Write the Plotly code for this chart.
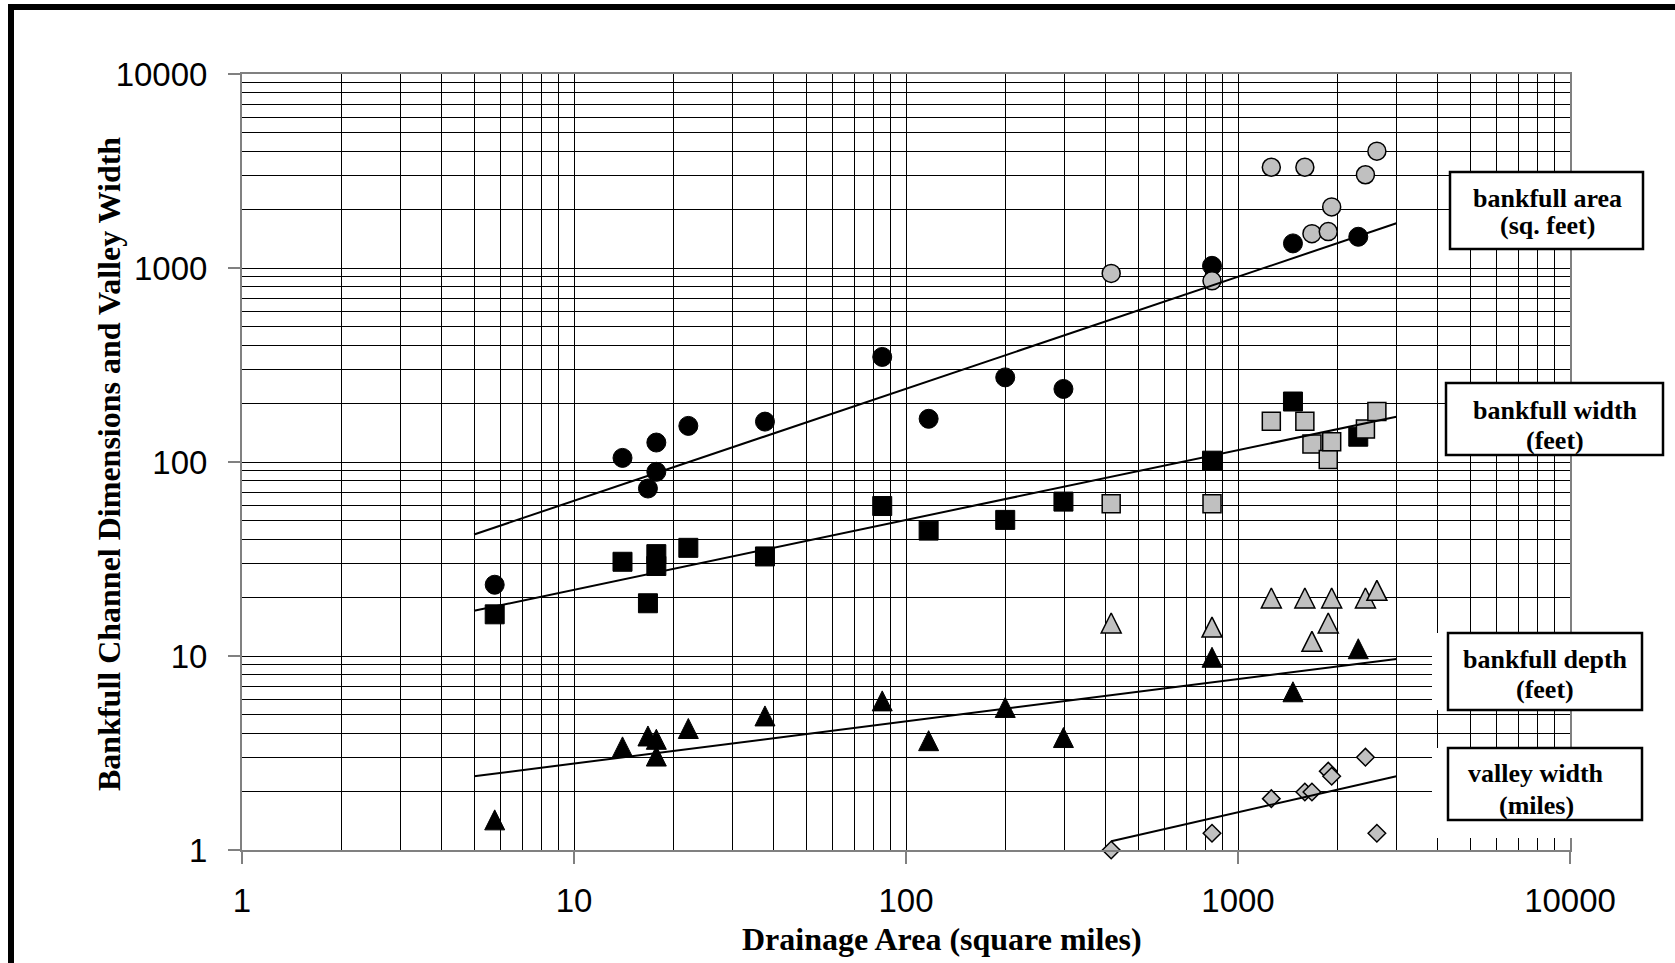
import plotly.graph_objects as go

# ---------------- data ----------------
# black symbols (smaller watersheds)
black_x = [5.77, 14.0, 16.7, 17.7, 17.7, 22.1, 37.6, 84.8, 117, 199, 298, 835, 1464, 2303]
black_area = [23.3, 105, 73, 126, 89, 153.5, 161.5, 348, 167, 273, 238, 1026, 1339, 1449]
black_width = [16.4, 30.6, 18.7, 33.5, 29.1, 36.1, 32.6, 59.3, 44.3, 50.3, 62.5, 101.6, 205, 135]
black_depth = [1.43, 3.4, 3.87, 3.72, 3.05, 4.23, 4.91, 5.87, 3.66, 5.43, 3.80, 9.85, 6.54, 10.9]

# gray symbols (larger watersheds)
gray_x = [415, 835, 1260, 1590, 1670, 1870, 1915, 2420, 2620]
gray_area = [938, 859, 3306, 3306, 1503, 1541, 2065, 3025, 4002]
gray_width = [60.9, 60.9, 162, 162, 124, 103, 127, 148, 182]
gray_depth = [14.8, 14.1, 19.9, 19.9, 11.9, 14.8, 19.9, 19.9, 21.8]
gray_valley = [1.0, 1.22, 1.84, 1.99, 1.99, 2.55, 2.40, 3.01, 1.22]

# power-law trend lines (end points)
trend_x = [5, 3000]
trend_area = [42.3, 1700]
trend_width = [17.1, 171]
trend_depth = [2.40, 9.65]
valley_trend_x = [415, 3000]
valley_trend = [1.11, 2.40]

tick_vals = [1, 10, 100, 1000, 10000]
tick_text = ["1", "10", "100", "1000", "10000"]
minor_vals = [m * 10 ** k for k in range(4) for m in range(2, 10)]

box_labels = [
    ("bankfull area", "(sq. feet)"),
    ("bankfull width", "(feet)"),
    ("bankfull depth", "(feet)"),
    ("valley width", "(miles)"),
]

# ---------------- layout geometry (pixels) ----------------
W, H = 1675, 963
PL, PR, PT, PB = 242, 1570, 74, 850


def px(x):
    return (x - PL) / (PR - PL)


def py(y):
    return (PB - y) / (PB - PT)


GRAY = "#C0C0C0"
SERIF = "Liberation Serif, Times New Roman, serif"
SANS = "Liberation Sans, Arial, sans-serif"
TRI = 20
delta = (TRI / 2) / ((PB - PT) / 4)

fig = go.Figure()


def add_markers(x, y, symbol, size, fill, lw, yaxis="y"):
    fig.add_trace(go.Scatter(
        x=x, y=y, mode="markers", yaxis=yaxis, cliponaxis=False,
        marker=dict(symbol=symbol, size=size, color=fill,
                    line=dict(color="black", width=lw)),
        showlegend=False, hoverinfo="x+y"))


add_markers(black_x, black_area, "circle", 19, "black", 1)
add_markers(gray_x, gray_area, "circle", 18, GRAY, 1.5)
add_markers(black_x, black_width, "square", 19, "black", 1)
add_markers(gray_x, gray_width, "square", 18, GRAY, 1.5)
add_markers(black_x, black_depth, "arrow-up", TRI, "black", 1, "y2")
add_markers(gray_x, gray_depth, "arrow-up", TRI, GRAY, 1.5, "y2")
add_markers(gray_x, gray_valley, "diamond", 13.5, GRAY, 1.5)

for xs, ys in [(trend_x, trend_area), (trend_x, trend_width),
               (trend_x, trend_depth), (valley_trend_x, valley_trend)]:
    fig.add_trace(go.Scatter(x=xs, y=ys, mode="lines",
                             line=dict(color="black", width=2),
                             showlegend=False, hoverinfo="skip"))

axis_common = dict(
    type="log", range=[0, 4],
    tickvals=tick_vals, ticktext=tick_text,
    ticks="outside", ticklen=12, tickwidth=1.5, tickcolor="#808080",
    showline=True, linecolor="#808080", linewidth=2, mirror=True,
    showgrid=True, gridcolor="black", gridwidth=1,
    minor=dict(tickvals=minor_vals, showgrid=True, gridcolor="black",
               gridwidth=1, ticks=""),
    zeroline=False,
    tickfont=dict(family=SANS, size=33, color="black"),
)

fig.update_layout(
    width=W, height=H,
    margin=dict(l=PL, r=W - PR, t=PT, b=H - PB),
    paper_bgcolor="white", plot_bgcolor="white",
    xaxis=dict(axis_common, ticklabelstandoff=8),
    yaxis=dict(axis_common, ticklabelstandoff=14),
    yaxis2=dict(type="log", overlaying="y", anchor="x",
                range=[-delta, 4 - delta], visible=False, showgrid=False),
    showlegend=False,
)

shapes = []
# outer thick frame
shapes.append(dict(type="rect", xref="paper", yref="paper",
                   x0=px(11), x1=px(1700), y0=py(7), y1=py(990),
                   line=dict(color="black", width=6), fillcolor="rgba(0,0,0,0)",
                   layer="above"))
# white masks behind the lower label boxes
for (x0, x1, y0, y1) in [(1432, 1645, 633, 710), (1432, 1645, 748, 838)]:
    shapes.append(dict(type="rect", xref="paper", yref="paper",
                       x0=px(x0), x1=px(x1), y0=py(y1), y1=py(y0),
                       line=dict(width=0), fillcolor="white", layer="above"))
boxes = [(1450, 1643, 172, 249), (1446, 1663, 383, 455),
         (1448, 1642, 633, 710), (1448, 1642, 748, 820)]
for (x0, x1, y0, y1) in boxes:
    shapes.append(dict(type="rect", xref="paper", yref="paper",
                       x0=px(x0), x1=px(x1), y0=py(y1), y1=py(y0),
                       line=dict(color="black", width=2.5), fillcolor="white",
                       layer="above"))
fig.update_layout(shapes=shapes)

annotations = []
line_pos = [(1547, 198, 226), (1555, 410, 440), (1545, 659, 689), (1536, 773, 805)]
for (l1, l2), (cx, y1, y2) in zip(box_labels, line_pos):
    for txt, yy in [(l1, y1), (l2, y2)]:
        annotations.append(dict(text=txt, xref="paper", yref="paper",
                                x=px(cx), y=py(yy), xanchor="center", yanchor="middle",
                                showarrow=False,
                                font=dict(family=SERIF, size=26, color="black", weight="bold")))
annotations.append(dict(text="Drainage Area (square miles)", xref="paper", yref="paper",
                        x=px(942), y=py(939), xanchor="center", yanchor="middle",
                        showarrow=False,
                        font=dict(family=SERIF, size=32, color="black", weight="bold")))
annotations.append(dict(text="Bankfull Channel Dimensions and Valley Width",
                        xref="paper", yref="paper", textangle=-90,
                        x=px(109), y=py(464), xanchor="center", yanchor="middle",
                        showarrow=False,
                        font=dict(family=SERIF, size=32, color="black", weight="bold")))
fig.update_layout(annotations=annotations)

fig.write_html("out.html", config={"displayModeBar": False},
               post_script="document.body.style.margin='0px';")
